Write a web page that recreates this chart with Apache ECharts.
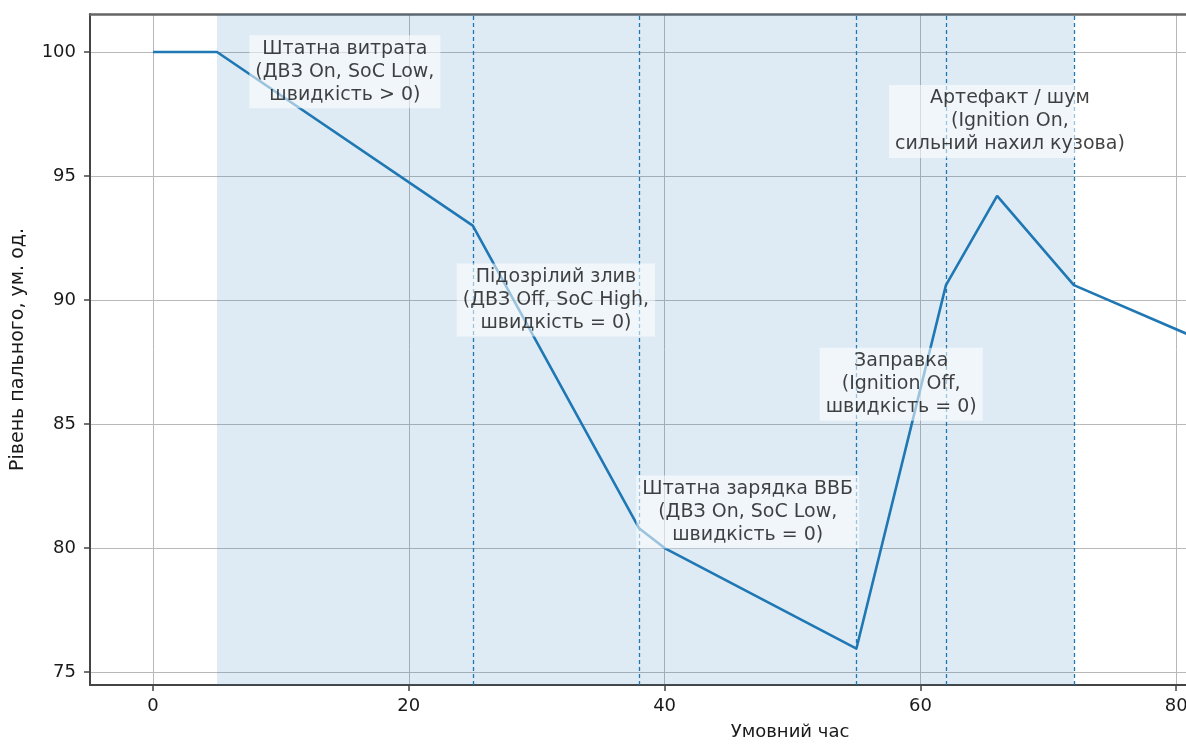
<!DOCTYPE html>
<html><head><meta charset="utf-8">
<script src="https://cdn.jsdelivr.net/npm/echarts@6/dist/echarts.min.js"></script>
<style>html,body{margin:0;padding:0;background:#fff;overflow:hidden}#c{width:1186px;height:745px}</style>
</head><body><div id="c"></div>
<script>
const xTicks = [0, 20, 40, 60, 80];
const yTicks = [75, 80, 85, 90, 95, 100];
const timeValues = [0, 5, 25, 38, 40, 55, 62, 66, 72, 81];
const fuelValues = [100, 100, 93, 80.8, 80.0, 75.95, 90.6, 94.2, 90.6, 88.6];
const phaseBounds = [[5, 25], [25, 38], [38, 55], [55, 62], [62, 72]];
const boundaryLines = [25, 38, 55, 62, 72];
const annotationTexts = [
  'Штатна витрата\n(ДВЗ On, SoC Low,\nшвидкість > 0)',
  'Підозрілий злив\n(ДВЗ Off, SoC High,\nшвидкість = 0)',
  'Штатна зарядка ВВБ\n(ДВЗ On, SoC Low,\nшвидкість = 0)',
  'Заправка\n(Ignition Off,\nшвидкість = 0)',
  'Артефакт / шум\n(Ignition On,\nсильний нахил кузова)'
];
const annotationX = [15, 31.5, 46.5, 58.5, 67];
const annotationY = [99.2, 90.0, 81.45, 86.6, 97.2];
const xName = 'Умовний час';
const yName = 'Рівень пального, ум. од.';

const FONT = 'DejaVu Sans';
const chart = echarts.init(document.getElementById('c'), null, {renderer: 'canvas'});
const lineData = timeValues.map((t, i) => [t, fuelValues[i]]);
const annData = annotationX.map((x, i) => ({value: [x, annotationY[i]], name: annotationTexts[i]}));
const X_MIN = -4.93, X_MAX = 80.77;

chart.setOption({
  animation: false,
  backgroundColor: '#fff',
  grid: {left: 90, top: 14, right: 0, bottom: 60, show: false, containLabel: false, outerBoundsMode: 'none'},
  xAxis: [{
    type: 'value', min: X_MIN, max: X_MAX,
    name: xName, nameLocation: 'middle', nameGap: 38,
    nameTextStyle: {fontFamily: FONT, fontSize: 18, color: '#1a1a1a', padding: [0, 0, 0, 304]},
    axisLine: {show: true, onZero: false, lineStyle: {color: '#444', width: 2}},
    axisTick: {show: true, inside: false, length: 6, customValues: xTicks, lineStyle: {color: '#444', width: 1.5}},
    axisLabel: {customValues: xTicks, fontFamily: FONT, fontSize: 18, color: '#1a1a1a', margin: 12, showMaxLabel: true},
    splitLine: {show: true, lineStyle: {color: '#b8b8b8', width: 1}}
  }, {
    type: 'value', position: 'top', min: X_MIN, max: X_MAX,
    axisLine: {show: true, onZero: false, lineStyle: {color: '#666', width: 2.5}},
    axisTick: {show: false}, axisLabel: {show: false}, splitLine: {show: false}
  }],
  yAxis: {
    type: 'value', min: 74.48, max: 101.53,
    name: yName, nameLocation: 'middle', nameGap: 62,
    nameTextStyle: {fontFamily: FONT, fontSize: 19, color: '#1a1a1a'},
    axisLine: {show: true, onZero: false, lineStyle: {color: '#444', width: 2}},
    axisTick: {show: true, inside: false, length: 6, customValues: yTicks, lineStyle: {color: '#444', width: 1.5}},
    axisLabel: {customValues: yTicks, fontFamily: FONT, fontSize: 18, color: '#1a1a1a', margin: 14},
    splitLine: {show: true, lineStyle: {color: '#b8b8b8', width: 1}}
  },
  series: [
    {
      type: 'line', data: lineData, symbol: 'none', z: 3, clip: true,
      lineStyle: {color: '#1f77b4', width: 2.6},
      markArea: {
        silent: true,
        itemStyle: {color: 'rgba(31,119,180,0.15)'},
        data: phaseBounds.map(b => [{xAxis: b[0]}, {xAxis: b[1]}])
      },
      markLine: {
        silent: true, symbol: 'none', label: {show: false},
        lineStyle: {color: '#1f77b4', type: [4, 3], width: 1.3},
        data: boundaryLines.map(v => ({xAxis: v}))
      }
    },
    {
      type: 'scatter', data: annData, symbolSize: 0, z: 10,
      label: {
        show: true, position: 'inside', formatter: p => p.name,
        fontFamily: FONT, fontSize: 19, color: '#111', lineHeight: 23, align: 'center',
        backgroundColor: 'rgba(255,255,255,0.7)', padding: [2, 6]
      }
    }
  ]
});
</script>
</body></html>
